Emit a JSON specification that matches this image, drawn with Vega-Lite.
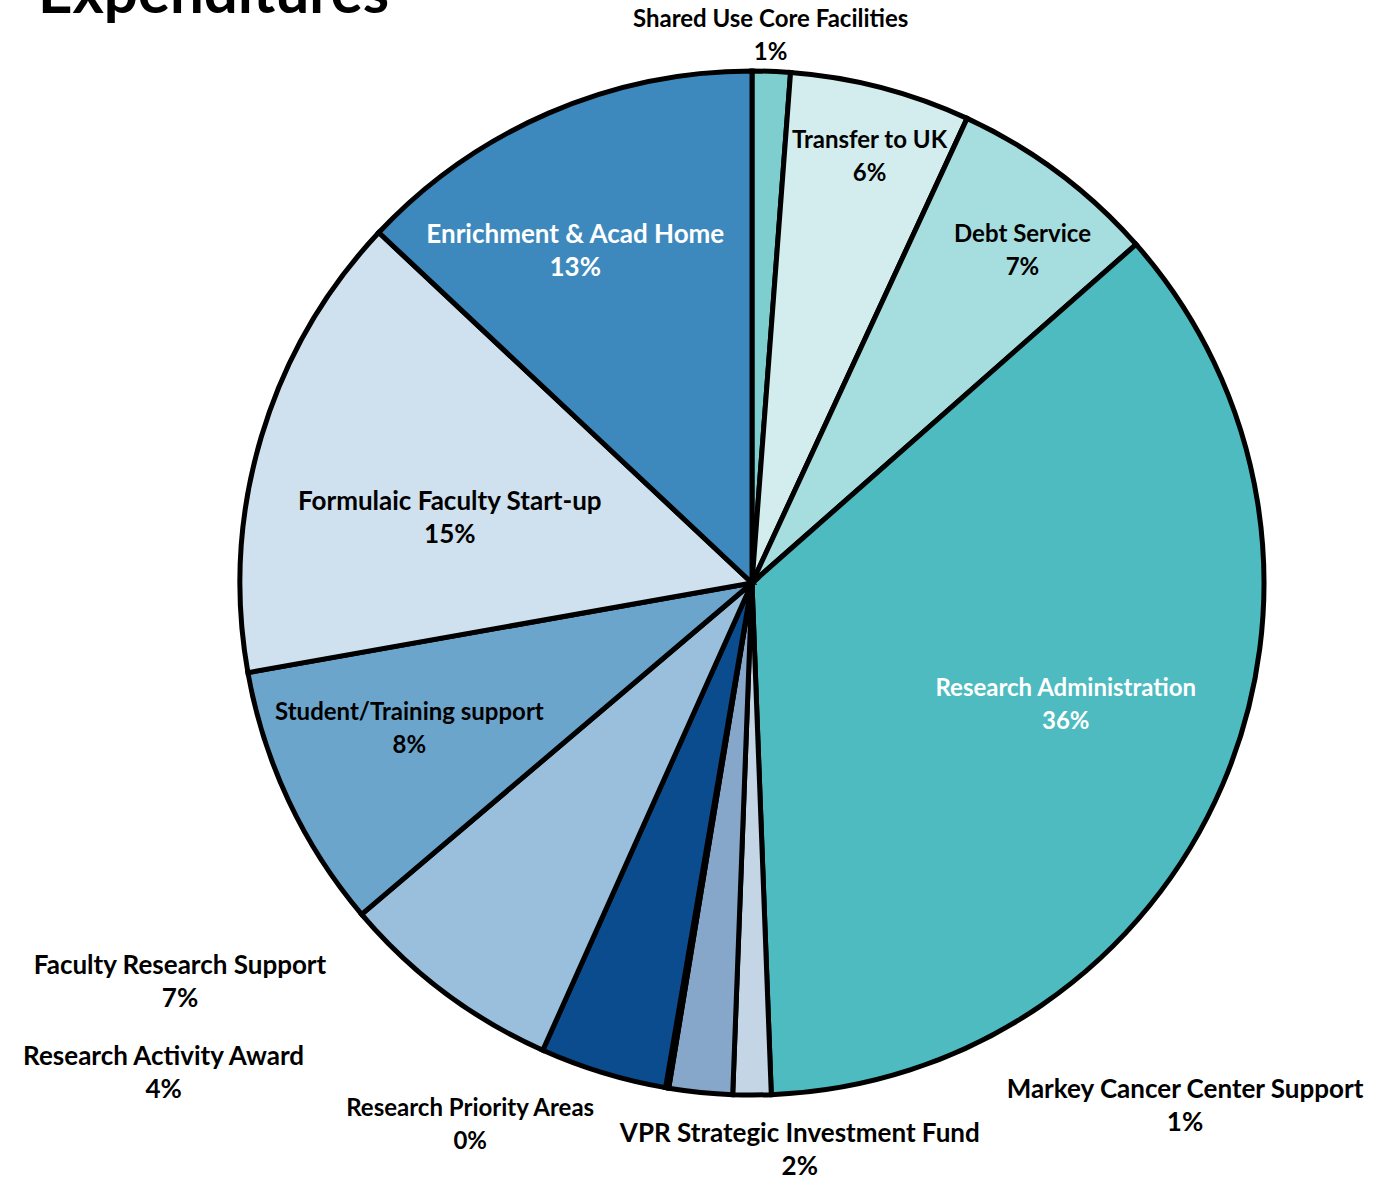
{
  "$schema": "https://vega.github.io/schema/vega-lite/v6.json",
  "autosize": {"type": "none"},
  "padding": {"left": 126, "top": 0, "right": 0, "bottom": 13},
  "width": 1252,
  "height": 1166,
  "background": "white",
  "view": {"stroke": null},
  "title": {"text": "Expenditures", "anchor": "start", "frame": "group", "font": "Lato", "fontWeight": "bold", "fontSize": 60, "color": "#000000", "offset": -73, "dx": -88, "baseline": "alphabetic"},
  "data": {"values": [
    {"i": 1, "cat": "Shared Use Core Facilities", "v": 1.2},
    {"i": 2, "cat": "Transfer to UK", "v": 5.7},
    {"i": 3, "cat": "Debt Service", "v": 6.6},
    {"i": 4, "cat": "Research Administration", "v": 35.9},
    {"i": 5, "cat": "Markey Cancer Center Support", "v": 1.2},
    {"i": 6, "cat": "VPR Strategic Investment Fund", "v": 2.0},
    {"i": 7, "cat": "Research Priority Areas", "v": 0.1},
    {"i": 8, "cat": "Research Activity Award", "v": 4.0},
    {"i": 9, "cat": "Faculty Research Support", "v": 7.1},
    {"i": 10, "cat": "Student/Training support", "v": 8.4},
    {"i": 11, "cat": "Formulaic Faculty Start-up", "v": 14.8},
    {"i": 12, "cat": "Enrichment & Acad Home", "v": 13.0}
  ]},
  "transform": [
    {"window": [{"op": "sum", "field": "v", "as": "cum"}], "sort": [{"field": "i"}], "frame": [null, 0]},
    {"calculate": "datum.cum - datum.v / 2", "as": "mid"},
    {"calculate": "datum.cat + '\\n' + format(datum.v, '.0f') + '%'", "as": "lbl"}
  ],
  "encoding": {},
  "layer": [
    {
      "mark": {"type": "arc", "outerRadius": 512, "stroke": "#000000", "strokeWidth": 5},
      "encoding": {
        "theta": {"field": "v", "type": "quantitative", "stack": true},
        "order": {"field": "i", "type": "quantitative"},
        "color": {"field": "cat", "type": "nominal", "legend": null,
          "scale": {"domain": ["Shared Use Core Facilities", "Transfer to UK", "Debt Service", "Research Administration", "Markey Cancer Center Support", "VPR Strategic Investment Fund", "Research Priority Areas", "Research Activity Award", "Faculty Research Support", "Student/Training support", "Formulaic Faculty Start-up", "Enrichment & Acad Home"],
                    "range": ["#7ECDCF", "#D3EDEE", "#A6DDDE", "#4EBBC0", "#C4D5E6", "#86A7C9", "#2F6FA8", "#0B4C8E", "#99BFDC", "#6CA5CC", "#CFE1EE", "#3D89BD"]}}
      }
    },
    {"transform": [{"filter": "datum.i == 1"}], "mark": {"type": "text", "font": "Lato", "fontWeight": "bold", "fontSize": 24, "lineBreak": "\n", "lineHeight": 33, "baseline": "middle", "align": "center", "color": "#000000", "radius": 548, "dx": -2, "dy": -15}, "encoding": {"theta": {"field": "mid", "type": "quantitative"}, "text": {"field": "lbl"}}},
    {"transform": [{"filter": "datum.i == 2"}], "mark": {"type": "text", "font": "Lato", "fontWeight": "bold", "fontSize": 24, "lineBreak": "\n", "lineHeight": 33, "baseline": "middle", "align": "center", "color": "#000000", "radius": 443, "dx": 6, "dy": -13}, "encoding": {"theta": {"field": "mid", "type": "quantitative"}, "text": {"field": "lbl"}}},
    {"transform": [{"filter": "datum.i == 3"}], "mark": {"type": "text", "font": "Lato", "fontWeight": "bold", "fontSize": 24, "lineBreak": "\n", "lineHeight": 33, "baseline": "middle", "align": "center", "color": "#000000", "radius": 429, "dx": 14, "dy": -4}, "encoding": {"theta": {"field": "mid", "type": "quantitative"}, "text": {"field": "lbl"}}},
    {"transform": [{"filter": "datum.i == 4"}], "mark": {"type": "text", "font": "Lato", "fontWeight": "bold", "fontSize": 24, "lineBreak": "\n", "lineHeight": 33, "baseline": "middle", "align": "center", "color": "#FFFFFF", "radius": 336, "dx": 5, "dy": -26}, "encoding": {"theta": {"field": "mid", "type": "quantitative"}, "text": {"field": "lbl"}}},
    {"transform": [{"filter": "datum.i == 5"}], "mark": {"type": "text", "font": "Lato", "fontWeight": "bold", "fontSize": 26, "lineBreak": "\n", "lineHeight": 33, "baseline": "middle", "align": "center", "color": "#000000", "radius": 522, "dx": 433, "dy": -15}, "encoding": {"theta": {"field": "mid", "type": "quantitative"}, "text": {"field": "lbl"}}},
    {"transform": [{"filter": "datum.i == 6"}], "mark": {"type": "text", "font": "Lato", "fontWeight": "bold", "fontSize": 26, "lineBreak": "\n", "lineHeight": 33, "baseline": "middle", "align": "center", "color": "#000000", "radius": 570, "dx": 105, "dy": -16}, "encoding": {"theta": {"field": "mid", "type": "quantitative"}, "text": {"field": "lbl"}}},
    {"transform": [{"filter": "datum.i == 7"}], "mark": {"type": "text", "font": "Lato", "fontWeight": "bold", "fontSize": 24, "lineBreak": "\n", "lineHeight": 33, "baseline": "middle", "align": "center", "color": "#000000", "radius": 548, "dx": -191, "dy": -14}, "encoding": {"theta": {"field": "mid", "type": "quantitative"}, "text": {"field": "lbl"}}},
    {"transform": [{"filter": "datum.i == 8"}], "mark": {"type": "text", "font": "Lato", "fontWeight": "bold", "fontSize": 26, "lineBreak": "\n", "lineHeight": 33, "baseline": "middle", "align": "center", "color": "#000000", "radius": 510, "dx": -440, "dy": -14}, "encoding": {"theta": {"field": "mid", "type": "quantitative"}, "text": {"field": "lbl"}}},
    {"transform": [{"filter": "datum.i == 9"}], "mark": {"type": "text", "font": "Lato", "fontWeight": "bold", "fontSize": 26, "lineBreak": "\n", "lineHeight": 33, "baseline": "middle", "align": "center", "color": "#000000", "radius": 498, "dx": -273, "dy": -15}, "encoding": {"theta": {"field": "mid", "type": "quantitative"}, "text": {"field": "lbl"}}},
    {"transform": [{"filter": "datum.i == 10"}], "mark": {"type": "text", "font": "Lato", "fontWeight": "bold", "fontSize": 24, "lineBreak": "\n", "lineHeight": 33, "baseline": "middle", "align": "center", "color": "#000000", "radius": 372, "dx": -6, "dy": -28}, "encoding": {"theta": {"field": "mid", "type": "quantitative"}, "text": {"field": "lbl"}}},
    {"transform": [{"filter": "datum.i == 11"}], "mark": {"type": "text", "font": "Lato", "fontWeight": "bold", "fontSize": 26, "lineBreak": "\n", "lineHeight": 33, "baseline": "middle", "align": "center", "color": "#000000", "radius": 309, "dx": -6, "dy": 7}, "encoding": {"theta": {"field": "mid", "type": "quantitative"}, "text": {"field": "lbl"}}},
    {"transform": [{"filter": "datum.i == 12"}], "mark": {"type": "text", "font": "Lato", "fontWeight": "bold", "fontSize": 26, "lineBreak": "\n", "lineHeight": 33, "baseline": "middle", "align": "center", "color": "#FFFFFF", "radius": 377, "dx": -27, "dy": -2}, "encoding": {"theta": {"field": "mid", "type": "quantitative"}, "text": {"field": "lbl"}}}
  ]
}
